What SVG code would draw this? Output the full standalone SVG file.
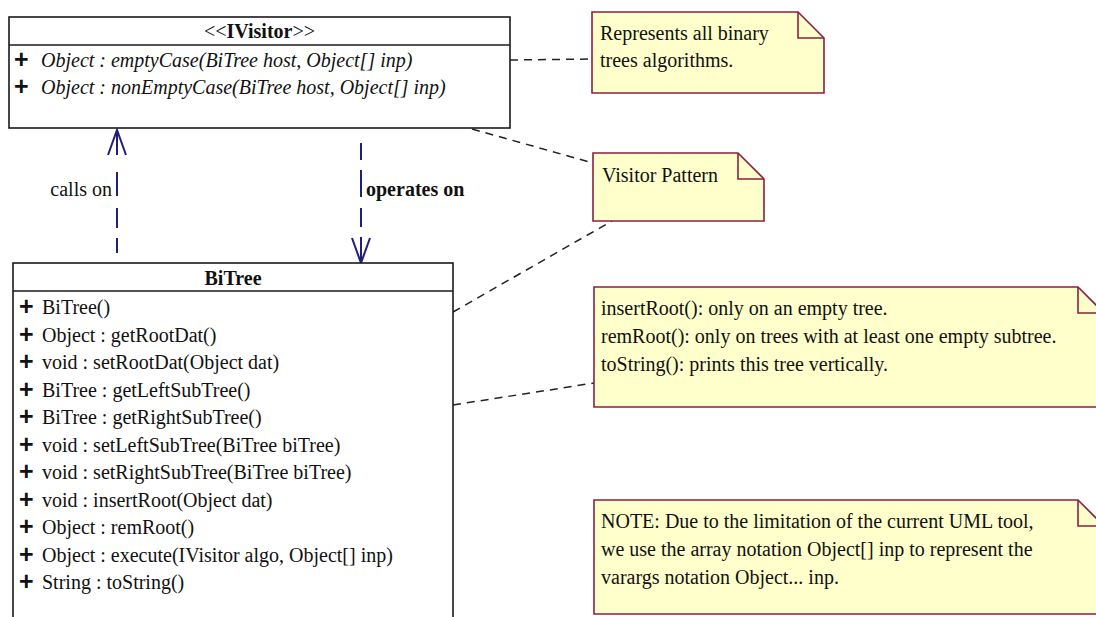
<svg xmlns="http://www.w3.org/2000/svg" width="1096" height="617" viewBox="0 0 1096 617">
<style>
.box{fill:#fff;stroke:#1a1a1a;stroke-width:1.6}
.note{fill:#ffffcc;stroke:#8b2040;stroke-width:1.6}
.fold{fill:none;stroke:#8b2040;stroke-width:1.6}
.t{font-family:"Liberation Serif","Times New Roman",serif;font-size:20px;fill:#111}
.it{font-style:italic}
.b{font-weight:bold}
.plus{font-family:"Liberation Sans",Arial,sans-serif;font-weight:bold;font-size:25px;fill:#111}
.dep{fill:none;stroke:#1f1f78;stroke-width:2}
.link{fill:none;stroke:#222;stroke-width:1.5;stroke-dasharray:8 6}
</style>
<rect width="1096" height="617" fill="#fff"/>

<g id="connectors">
  <path class="dep" d="M117,130 V155 M117,172 V196 M117,208 V228 M117,238 V253"/>
  <path class="dep" d="M108,155 L117,130 L126,155"/>
  <path class="dep" d="M361,143 V160 M361,170 V197 M361,208 V227 M361,237 V263"/>
  <path class="dep" d="M352,238 L361,263 L370,238"/>
  <path class="link" d="M510,60 L592,59"/>
  <path class="link" d="M472,129 L593,163"/>
  <path class="link" d="M453,312 L612,221"/>
  <path class="link" d="M453,405 L594,383"/>
  <text class="t" x="112" y="196" text-anchor="end">calls on</text>
  <text class="t b" x="366" y="196">operates on</text>
</g>

<g id="IVisitor">
  <rect class="box" x="9" y="17" width="501" height="111"/>
  <line class="box" x1="9" y1="45" x2="510" y2="45"/>
  <text class="t" x="259.5" y="38" text-anchor="middle">&lt;&lt;<tspan class="b">IVisitor</tspan>&gt;&gt;</text>
  <text class="plus" x="14" y="68">+</text>
  <text class="t it" x="41" y="67">Object : emptyCase(BiTree host, Object[] inp)</text>
  <text class="plus" x="14" y="95">+</text>
  <text class="t it" x="41" y="94">Object : nonEmptyCase(BiTree host, Object[] inp)</text>
</g>

<g id="BiTree">
  <rect class="box" x="13" y="263" width="440" height="380"/>
  <line class="box" x1="13" y1="291" x2="453" y2="291"/>
  <text class="t b" x="233" y="285" text-anchor="middle">BiTree</text>
  <g class="plus">
    <text x="19" y="315">+</text>
    <text x="19" y="342.5">+</text>
    <text x="19" y="370">+</text>
    <text x="19" y="397.5">+</text>
    <text x="19" y="425">+</text>
    <text x="19" y="452.5">+</text>
    <text x="19" y="480">+</text>
    <text x="19" y="507.5">+</text>
    <text x="19" y="535">+</text>
    <text x="19" y="562.5">+</text>
    <text x="19" y="590">+</text>
  </g>
  <g class="t">
    <text x="42" y="314">BiTree()</text>
    <text x="42" y="341.5">Object : getRootDat()</text>
    <text x="42" y="369">void : setRootDat(Object dat)</text>
    <text x="42" y="396.5">BiTree : getLeftSubTree()</text>
    <text x="42" y="424">BiTree : getRightSubTree()</text>
    <text x="42" y="451.5">void : setLeftSubTree(BiTree biTree)</text>
    <text x="42" y="479">void : setRightSubTree(BiTree biTree)</text>
    <text x="42" y="506.5">void : insertRoot(Object dat)</text>
    <text x="42" y="534">Object : remRoot()</text>
    <text x="42" y="561.5">Object : execute(IVisitor algo, Object[] inp)</text>
    <text x="42" y="589">String : toString()</text>
  </g>
</g>

<g id="note-algorithms">
  <path class="note" d="M592,12 H798 L824,38 V93 H592 Z"/>
  <path class="fold" d="M798,12 V38 H824"/>
  <text class="t" x="600" y="40">Represents all binary</text>
  <text class="t" x="600" y="67">trees algorithms.</text>
</g>

<g id="note-visitor">
  <path class="note" d="M593,153 H738 L764,179 V221 H593 Z"/>
  <path class="fold" d="M738,153 V179 H764"/>
  <text class="t" x="602" y="182">Visitor Pattern</text>
</g>

<g id="note-methods">
  <path class="note" d="M594,287 H1078 L1104,313 V407 H594 Z"/>
  <path class="fold" d="M1078,287 V313 H1104"/>
  <text class="t" x="601" y="315">insertRoot(): only on an empty tree.</text>
  <text class="t" x="601" y="343">remRoot(): only on trees with at least one empty subtree.</text>
  <text class="t" x="601" y="371">toString(): prints this tree vertically.</text>
</g>

<g id="note-varargs">
  <path class="note" d="M594,500 H1078 L1104,526 V614 H594 Z"/>
  <path class="fold" d="M1078,500 V526 H1104"/>
  <text class="t" x="601" y="528">NOTE: Due to the limitation of the current UML tool,</text>
  <text class="t" x="601" y="556">we use the array notation Object[] inp to represent the</text>
  <text class="t" x="601" y="584">varargs notation Object... inp.</text>
</g>
</svg>
